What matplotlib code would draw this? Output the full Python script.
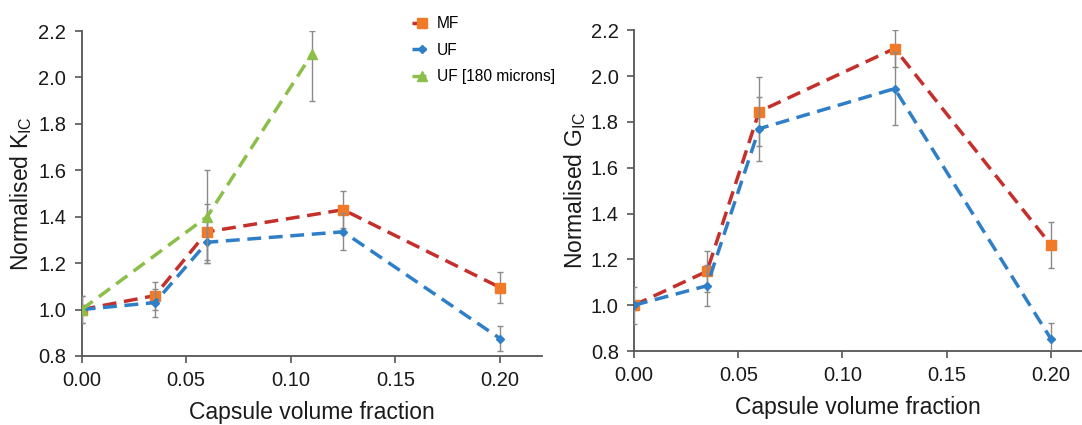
import matplotlib
matplotlib.use("Agg")
import matplotlib.pyplot as plt

plt.rcParams['font.family'] = ['Liberation Sans', 'DejaVu Sans']
plt.rcParams['mathtext.fontset'] = 'custom'
plt.rcParams['mathtext.rm'] = 'Liberation Sans'

# capsule volume fractions
x = [0.0, 0.035, 0.06, 0.125, 0.20]
x_180 = [0.0, 0.06, 0.11]

# normalised K_IC
k_mf = [1.0, 1.06, 1.335, 1.43, 1.095]
k_mf_err = [0.06, 0.06, 0.12, 0.08, 0.065]
k_uf = [1.0, 1.03, 1.29, 1.335, 0.875]
k_uf_err = [0.06, 0.06, 0.09, 0.08, 0.055]
k_180 = [1.0, 1.4, 2.1]
k_180_lo = [0.02, 0.2, 0.2]
k_180_hi = [0.02, 0.2, 0.1]

# normalised G_IC
g_mf = [1.0, 1.148, 1.845, 2.12, 1.263]
g_mf_err = [0.02, 0.09, 0.15, 0.08, 0.1]
g_uf = [1.0, 1.085, 1.77, 1.945, 0.853]
g_uf_err = [0.08, 0.09, 0.14, 0.16, 0.07]

red_line = '#c4302b'
orange = '#f07a28'
blue = '#2f7fc8'
green = '#8cbf4a'
err_col = '#8a8a8a'

fig = plt.figure(figsize=(10.82, 4.25), dpi=100)
ax1 = fig.add_axes([0.0754, 0.1624, 0.5009 - 0.0754, 0.927 - 0.1624])
ax2 = fig.add_axes([0.5860, 0.174, 1.0 - 0.5860, 0.929 - 0.174])


def style_axes(ax, xmax, label, ypad):
    ax.set_xlim(0, xmax)
    ax.set_ylim(0.8, 2.2)
    ax.set_xticks([0.0, 0.05, 0.10, 0.15, 0.20])
    ax.set_xticklabels(['0.00', '0.05', '0.10', '0.15', '0.20'])
    ax.set_yticks([0.8, 1.0, 1.2, 1.4, 1.6, 1.8, 2.0, 2.2])
    ax.set_yticklabels(['0.8', '1.0', '1.2', '1.4', '1.6', '1.8', '2.0', '2.2'])
    for s in ['top', 'right']:
        ax.spines[s].set_visible(False)
    for s in ['left', 'bottom']:
        ax.spines[s].set_color('#555555')
        ax.spines[s].set_linewidth(1.3)
    ax.tick_params(direction='out', length=5, width=1.2, color='#555555',
                   labelsize=14.5, labelcolor='#1a1a1a', pad=6)
    ax.set_xlabel('Capsule volume fraction', fontsize=16.5, color='#1a1a1a', labelpad=8)
    ax.set_ylabel(label, fontsize=16.5, color='#1a1a1a', labelpad=ypad)


def series(ax, xs, ys, err, line_col, mk_col, marker, ms, lab, z):
    ax.errorbar(xs, ys, yerr=err, fmt='none', ecolor=err_col, elinewidth=1,
                capsize=2, capthick=1, zorder=z)
    ax.plot(xs, ys, color=line_col, linestyle=(0, (4, 2.2)), linewidth=2.5,
            marker=marker, markersize=ms, markerfacecolor=mk_col,
            markeredgecolor=mk_col, label=lab, zorder=z + 1)


series(ax1, x, k_mf, k_mf_err, red_line, orange, 's', 6.5, 'MF', 3)
series(ax1, x, k_uf, k_uf_err, blue, blue, 'D', 4, 'UF', 5)
series(ax1, x_180, k_180, [k_180_lo, k_180_hi], green, green, '^', 7, 'UF [180 microns]', 7)
style_axes(ax1, 0.22, 'Normalised K$_{\\mathregular{IC}}$', 3)

series(ax2, x, g_mf, g_mf_err, red_line, orange, 's', 6.5, 'MF', 3)
series(ax2, x, g_uf, g_uf_err, blue, blue, 'D', 4, 'UF', 5)
style_axes(ax2, 0.2149, 'Normalised G$_{\\mathregular{IC}}$', 2)

handles, labels = ax1.get_legend_handles_labels()
fig.legend(handles, labels, loc='upper left', bbox_to_anchor=(0.368, 0.995),
           frameon=False, fontsize=11.2, handlelength=1.2, handletextpad=0.4,
           labelspacing=0.75, numpoints=1)

fig.savefig('out.png', dpi=100)
